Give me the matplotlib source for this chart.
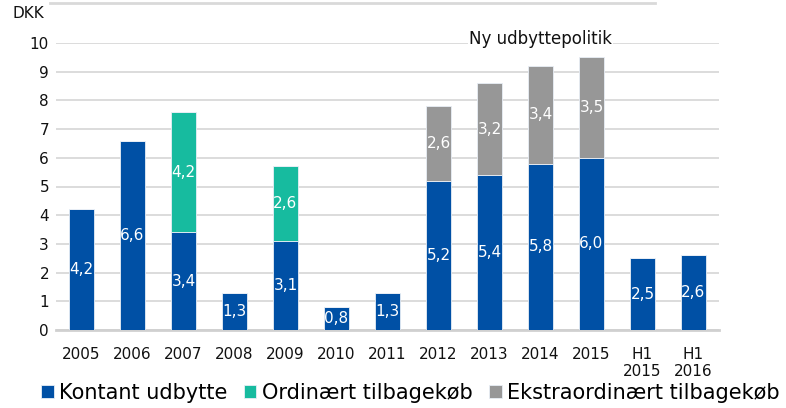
import numpy as np
import matplotlib
matplotlib.use("Agg")
import matplotlib.pyplot as plt
from matplotlib.lines import Line2D

# data
categories = ["2005", "2006", "2007", "2008", "2009", "2010", "2011",
              "2012", "2013", "2014", "2015", "H1\n2015", "H1\n2016"]
kontant = [4.2, 6.6, 3.4, 1.3, 3.1, 0.8, 1.3, 5.2, 5.4, 5.8, 6.0, 2.5, 2.6]
ordinaert = [0, 0, 4.2, 0, 2.6, 0, 0, 0, 0, 0, 0, 0, 0]
ekstra = [0, 0, 0, 0, 0, 0, 0, 2.6, 3.2, 3.4, 3.5, 0, 0]
series_names = ["Kontant udbytte", "Ordinært tilbagekøb", "Ekstraordinært tilbagekøb"]
colors = ["#0050a5", "#17bb9f", "#979797"]

plt.rcParams["font.family"] = "DejaVu Sans"

fig = plt.figure(figsize=(7.86, 4.08), dpi=100)
ax = fig.add_axes([56/786, 1-330/408, 663/786, 287/408])

x = np.arange(len(categories))
bottom = np.zeros(len(categories))
for vals, name, col in zip([kontant, ordinaert, ekstra], series_names, colors):
    vals = np.array(vals, dtype=float)
    bars = ax.bar(x, vals, 0.5, bottom=bottom, color=col, label=name,
                  edgecolor="#e8eef6", linewidth=0.6, zorder=3)
    labels = [("%.1f" % v).replace(".", ",") if v > 0 else "" for v in vals]
    ax.bar_label(bars, labels=labels, label_type="center", color="white",
                 fontsize=11, zorder=4)
    bottom += vals

ax.set_xlim(-0.5, len(categories) - 0.5)
ax.set_ylim(0, 10)
ax.set_yticks(range(0, 11))
ax.set_xticks(x)
ax.set_xticklabels(categories)
ax.tick_params(axis="both", length=0, labelsize=11, colors="#111111")
ax.tick_params(axis="x", pad=12)
ax.tick_params(axis="y", pad=5)

ax.grid(axis="y", color="#dcdcdc", linewidth=1.4, zorder=0)
for s in ["top", "right", "left"]:
    ax.spines[s].set_visible(False)
ax.spines["bottom"].set_color("#d0d0d0")
ax.spines["bottom"].set_linewidth(2)

ax.text(9, 10.15, "Ny udbyttepolitik", ha="center", va="center", fontsize=12,
        color="#111111", zorder=5, clip_on=False,
        bbox=dict(facecolor="white", edgecolor="none", pad=1))

fig.text(12/786, 1-14/408, "DKK", ha="left", va="center", fontsize=11, color="#111111")

fig.add_artist(Line2D([50/786, 655/786], [1-3/408, 1-3/408], color="#d9d9d9", linewidth=2))

fig.legend(loc="center", bbox_to_anchor=(0.522, 1-393/408), ncol=3, frameon=False,
           fontsize=15, handlelength=0.6, handleheight=0.6, handletextpad=0.25,
           columnspacing=0.8, borderaxespad=0)

fig.savefig("out.png", dpi=100)
